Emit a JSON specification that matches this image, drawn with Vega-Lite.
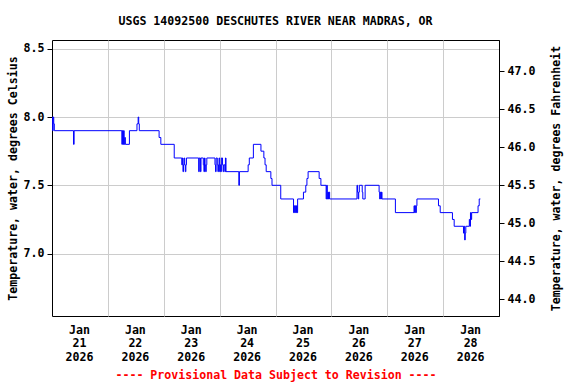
{
  "$schema": "https://vega.github.io/schema/vega-lite/v6.json",
  "width": 447,
  "height": 276,
  "autosize": {"type": "none"},
  "padding": {"left": 52, "top": 40, "right": 77, "bottom": 68},
  "background": "white",
  "config": {
    "view": {"stroke": "black", "strokeWidth": 1},
    "font": "DejaVu Sans Mono",
    "axis": {
      "labelFont": "DejaVu Sans Mono", "labelFontWeight": "bold", "labelFontSize": 11.6, "labelColor": "black",
      "titleFont": "DejaVu Sans Mono", "titleFontWeight": "bold", "titleFontSize": 11.6, "titleColor": "black",
      "domainColor": "black", "tickColor": "black", "gridColor": "#cccccc", "gridWidth": 1
    }
  },
  "title": {
    "text": "USGS 14092500 DESCHUTES RIVER NEAR MADRAS, OR",
    "font": "DejaVu Sans Mono", "fontSize": 11.6, "fontWeight": "bold", "color": "black",
    "anchor": "middle", "offset": 12
  },
  "layer": [
    {
      "data": {"values": [
        {"t": "2026-01-21T00:00", "c": 8.0},
        {"t": "2026-01-21T00:15", "c": 7.9},
        {"t": "2026-01-21T00:30", "c": 8.0},
        {"t": "2026-01-21T00:45", "c": 7.95},
        {"t": "2026-01-21T01:00", "c": 7.9},
        {"t": "2026-01-21T09:15", "c": 7.8},
        {"t": "2026-01-21T09:30", "c": 7.9},
        {"t": "2026-01-22T06:00", "c": 7.8},
        {"t": "2026-01-22T06:15", "c": 7.9},
        {"t": "2026-01-22T06:30", "c": 7.8},
        {"t": "2026-01-22T06:45", "c": 7.9},
        {"t": "2026-01-22T07:00", "c": 7.8},
        {"t": "2026-01-22T07:15", "c": 7.85},
        {"t": "2026-01-22T07:30", "c": 7.8},
        {"t": "2026-01-22T09:15", "c": 7.9},
        {"t": "2026-01-22T12:30", "c": 7.95},
        {"t": "2026-01-22T13:00", "c": 8.0},
        {"t": "2026-01-22T13:15", "c": 7.95},
        {"t": "2026-01-22T13:30", "c": 7.9},
        {"t": "2026-01-22T22:00", "c": 7.85},
        {"t": "2026-01-22T22:45", "c": 7.8},
        {"t": "2026-01-23T04:30", "c": 7.7},
        {"t": "2026-01-23T07:45", "c": 7.65},
        {"t": "2026-01-23T08:00", "c": 7.7},
        {"t": "2026-01-23T08:15", "c": 7.6},
        {"t": "2026-01-23T08:30", "c": 7.65},
        {"t": "2026-01-23T08:45", "c": 7.7},
        {"t": "2026-01-23T09:00", "c": 7.65},
        {"t": "2026-01-23T09:15", "c": 7.6},
        {"t": "2026-01-23T09:30", "c": 7.65},
        {"t": "2026-01-23T09:45", "c": 7.7},
        {"t": "2026-01-23T15:00", "c": 7.6},
        {"t": "2026-01-23T15:15", "c": 7.7},
        {"t": "2026-01-23T15:45", "c": 7.6},
        {"t": "2026-01-23T16:00", "c": 7.7},
        {"t": "2026-01-23T17:00", "c": 7.65},
        {"t": "2026-01-23T17:15", "c": 7.6},
        {"t": "2026-01-23T17:30", "c": 7.7},
        {"t": "2026-01-23T17:45", "c": 7.65},
        {"t": "2026-01-23T18:00", "c": 7.6},
        {"t": "2026-01-23T18:15", "c": 7.65},
        {"t": "2026-01-23T18:30", "c": 7.7},
        {"t": "2026-01-23T22:00", "c": 7.65},
        {"t": "2026-01-23T22:15", "c": 7.6},
        {"t": "2026-01-23T22:30", "c": 7.7},
        {"t": "2026-01-23T23:00", "c": 7.65},
        {"t": "2026-01-23T23:15", "c": 7.6},
        {"t": "2026-01-23T23:30", "c": 7.65},
        {"t": "2026-01-23T23:45", "c": 7.7},
        {"t": "2026-01-24T00:00", "c": 7.6},
        {"t": "2026-01-24T00:15", "c": 7.65},
        {"t": "2026-01-24T00:30", "c": 7.6},
        {"t": "2026-01-24T00:45", "c": 7.7},
        {"t": "2026-01-24T01:15", "c": 7.65},
        {"t": "2026-01-24T01:30", "c": 7.6},
        {"t": "2026-01-24T01:45", "c": 7.65},
        {"t": "2026-01-24T02:15", "c": 7.6},
        {"t": "2026-01-24T02:30", "c": 7.7},
        {"t": "2026-01-24T02:45", "c": 7.6},
        {"t": "2026-01-24T08:15", "c": 7.5},
        {"t": "2026-01-24T08:30", "c": 7.6},
        {"t": "2026-01-24T12:15", "c": 7.65},
        {"t": "2026-01-24T12:45", "c": 7.7},
        {"t": "2026-01-24T14:30", "c": 7.8},
        {"t": "2026-01-24T17:45", "c": 7.75},
        {"t": "2026-01-24T19:00", "c": 7.7},
        {"t": "2026-01-24T19:30", "c": 7.65},
        {"t": "2026-01-24T20:00", "c": 7.6},
        {"t": "2026-01-24T22:00", "c": 7.55},
        {"t": "2026-01-24T22:30", "c": 7.5},
        {"t": "2026-01-25T02:15", "c": 7.4},
        {"t": "2026-01-25T07:45", "c": 7.3},
        {"t": "2026-01-25T08:00", "c": 7.35},
        {"t": "2026-01-25T08:15", "c": 7.3},
        {"t": "2026-01-25T08:30", "c": 7.35},
        {"t": "2026-01-25T08:45", "c": 7.3},
        {"t": "2026-01-25T09:00", "c": 7.35},
        {"t": "2026-01-25T09:15", "c": 7.3},
        {"t": "2026-01-25T09:30", "c": 7.4},
        {"t": "2026-01-25T12:00", "c": 7.45},
        {"t": "2026-01-25T13:00", "c": 7.5},
        {"t": "2026-01-25T13:30", "c": 7.55},
        {"t": "2026-01-25T14:00", "c": 7.6},
        {"t": "2026-01-25T18:45", "c": 7.55},
        {"t": "2026-01-25T19:30", "c": 7.5},
        {"t": "2026-01-25T21:45", "c": 7.4},
        {"t": "2026-01-25T22:00", "c": 7.5},
        {"t": "2026-01-25T22:15", "c": 7.4},
        {"t": "2026-01-25T22:30", "c": 7.45},
        {"t": "2026-01-25T22:45", "c": 7.4},
        {"t": "2026-01-25T23:00", "c": 7.45},
        {"t": "2026-01-25T23:15", "c": 7.4},
        {"t": "2026-01-26T11:00", "c": 7.5},
        {"t": "2026-01-26T11:15", "c": 7.45},
        {"t": "2026-01-26T11:30", "c": 7.4},
        {"t": "2026-01-26T11:45", "c": 7.45},
        {"t": "2026-01-26T12:00", "c": 7.5},
        {"t": "2026-01-26T13:15", "c": 7.45},
        {"t": "2026-01-26T13:30", "c": 7.4},
        {"t": "2026-01-26T14:30", "c": 7.5},
        {"t": "2026-01-26T20:30", "c": 7.45},
        {"t": "2026-01-26T20:45", "c": 7.4},
        {"t": "2026-01-26T21:00", "c": 7.45},
        {"t": "2026-01-26T21:15", "c": 7.4},
        {"t": "2026-01-26T21:30", "c": 7.45},
        {"t": "2026-01-26T21:45", "c": 7.4},
        {"t": "2026-01-27T03:30", "c": 7.3},
        {"t": "2026-01-27T11:30", "c": 7.35},
        {"t": "2026-01-27T11:45", "c": 7.3},
        {"t": "2026-01-27T12:00", "c": 7.35},
        {"t": "2026-01-27T12:15", "c": 7.3},
        {"t": "2026-01-27T12:30", "c": 7.35},
        {"t": "2026-01-27T12:45", "c": 7.4},
        {"t": "2026-01-27T22:00", "c": 7.35},
        {"t": "2026-01-27T22:45", "c": 7.3},
        {"t": "2026-01-28T04:00", "c": 7.25},
        {"t": "2026-01-28T04:45", "c": 7.2},
        {"t": "2026-01-28T08:45", "c": 7.15},
        {"t": "2026-01-28T09:00", "c": 7.2},
        {"t": "2026-01-28T09:15", "c": 7.1},
        {"t": "2026-01-28T09:30", "c": 7.15},
        {"t": "2026-01-28T09:45", "c": 7.2},
        {"t": "2026-01-28T11:15", "c": 7.25},
        {"t": "2026-01-28T11:30", "c": 7.2},
        {"t": "2026-01-28T11:45", "c": 7.3},
        {"t": "2026-01-28T12:00", "c": 7.25},
        {"t": "2026-01-28T12:15", "c": 7.3},
        {"t": "2026-01-28T15:00", "c": 7.35},
        {"t": "2026-01-28T15:30", "c": 7.4},
        {"t": "2026-01-28T16:00", "c": 7.4}
      ]},
      "mark": {"type": "line", "interpolate": "step-after", "color": "#0000ff", "strokeWidth": 1},
      "encoding": {
        "x": {
          "field": "t", "type": "temporal",
          "scale": {"domain": [{"year": 2026, "month": 1, "date": 21}, {"year": 2026, "month": 1, "date": 29}]},
          "axis": {
            "orient": "bottom",
            "values": [
              {"year": 2026, "month": 1, "date": 21}, {"year": 2026, "month": 1, "date": 22},
              {"year": 2026, "month": 1, "date": 23}, {"year": 2026, "month": 1, "date": 24},
              {"year": 2026, "month": 1, "date": 25}, {"year": 2026, "month": 1, "date": 26},
              {"year": 2026, "month": 1, "date": 27}, {"year": 2026, "month": 1, "date": 28}
            ],
            "labelExpr": "[timeFormat(datum.value, '%b'), timeFormat(datum.value, '%d'), timeFormat(datum.value, '%Y')]",
            "labelOffset": 27,
            "labelAlign": "center",
            "labelFlush": false,
            "labelOverlap": false,
            "labelLineHeight": 13.5,
            "labelPadding": 8,
            "ticks": false,
            "domain": false,
            "grid": true,
            "title": "---- Provisional Data Subject to Revision ----",
            "titleColor": "#ff0000",
            "titlePadding": 7
          }
        },
        "y": {
          "field": "c", "type": "quantitative",
          "scale": {"domain": [6.543, 8.564], "nice": false, "zero": false},
          "axis": {
            "orient": "left",
            "values": [7.0, 7.5, 8.0, 8.5],
            "format": ".1f",
            "grid": true,
            "tickSize": 5,
            "labelPadding": 3,
            "title": "Temperature, water, degrees Celsius",
            "titlePadding": 5
          }
        }
      }
    },
    {
      "data": {"values": [{"f": 44.0}, {"f": 47.0}]},
      "mark": {"type": "point", "opacity": 0},
      "encoding": {
        "y": {
          "field": "f", "type": "quantitative",
          "scale": {"domain": [43.777, 47.415], "nice": false, "zero": false},
          "axis": {
            "orient": "right",
            "values": [44.0, 44.5, 45.0, 45.5, 46.0, 46.5, 47.0],
            "format": ".1f",
            "grid": false,
            "tickSize": 5,
            "labelPadding": 3,
            "title": "Temperature, water, degrees Fahrenheit",
            "titleAngle": 270,
            "titleBaseline": "bottom",
            "titlePadding": 27
          }
        }
      }
    }
  ],
  "resolve": {"scale": {"y": "independent"}, "axis": {"y": "independent"}}
}
